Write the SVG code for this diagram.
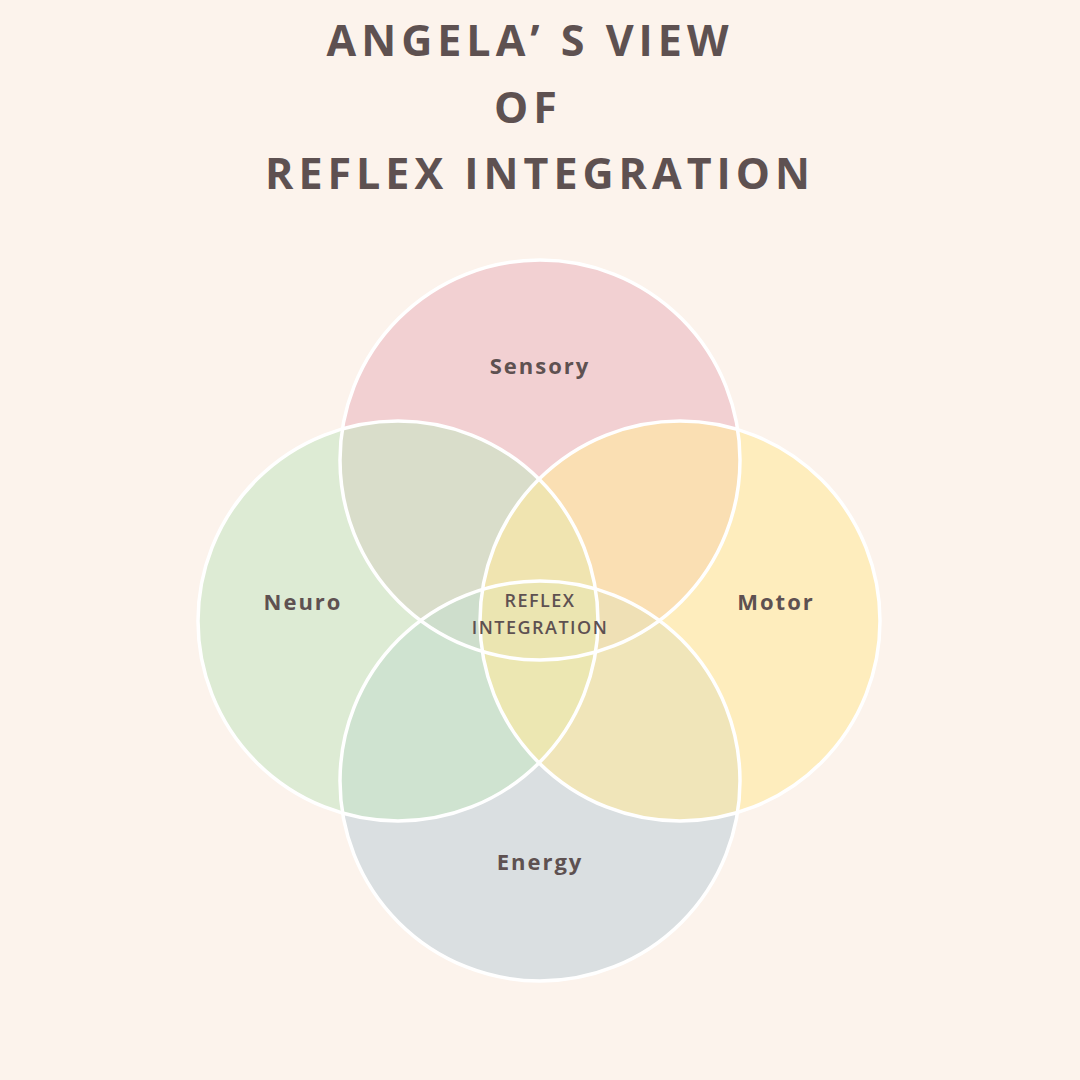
<svg xmlns="http://www.w3.org/2000/svg" width="1080" height="1080" viewBox="0 0 1080 1080">
<style>
.c{stroke:none;fill-opacity:0.6}
.o{stroke:#ffffff;stroke-width:3.5;fill:none}
.t{font-family:"Open Sans","DejaVu Sans",sans-serif;font-weight:bold;fill:#5e5151;text-anchor:middle}
.title{font-size:43px;letter-spacing:5px}
.lbl{font-size:22px;letter-spacing:2px}
.mid{font-size:18px;letter-spacing:1.5px;font-weight:600}
</style>
<rect width="1080" height="1080" fill="#fcf3ec"/>
<g id="title">
<text class="t title" x="530" y="56">ANGELA’ S VIEW</text>
<text class="t title" x="528" y="123">OF</text>
<text class="t title" x="540" y="189">REFLEX INTEGRATION</text>
</g>
<g id="sensory"><circle class="c" cx="540" cy="460" r="200" fill="#ebb9c1"/></g>
<g id="energy"><circle class="c" cx="540" cy="781" r="200" fill="#c3d2db"/></g>
<g id="neuro"><circle class="c" cx="398" cy="621" r="200" fill="#c8e6c4"/></g>
<g id="motor"><circle class="c" cx="680" cy="621" r="200" fill="#ffe99e"/></g>
<g id="outlines">
<circle class="o" cx="540" cy="460" r="200"/>
<circle class="o" cx="540" cy="781" r="200"/>
<circle class="o" cx="398" cy="621" r="200"/>
<circle class="o" cx="680" cy="621" r="200"/>
</g>
<g id="labels">
<text class="t lbl" x="540" y="374">Sensory</text>
<text class="t lbl" x="303" y="610">Neuro</text>
<text class="t lbl" x="776" y="610">Motor</text>
<text class="t lbl" x="540" y="870">Energy</text>
<text class="t mid" x="540" y="607">REFLEX</text>
<text class="t mid" x="540" y="634">INTEGRATION</text>
</g>
<g id="connectors"/>
</svg>
